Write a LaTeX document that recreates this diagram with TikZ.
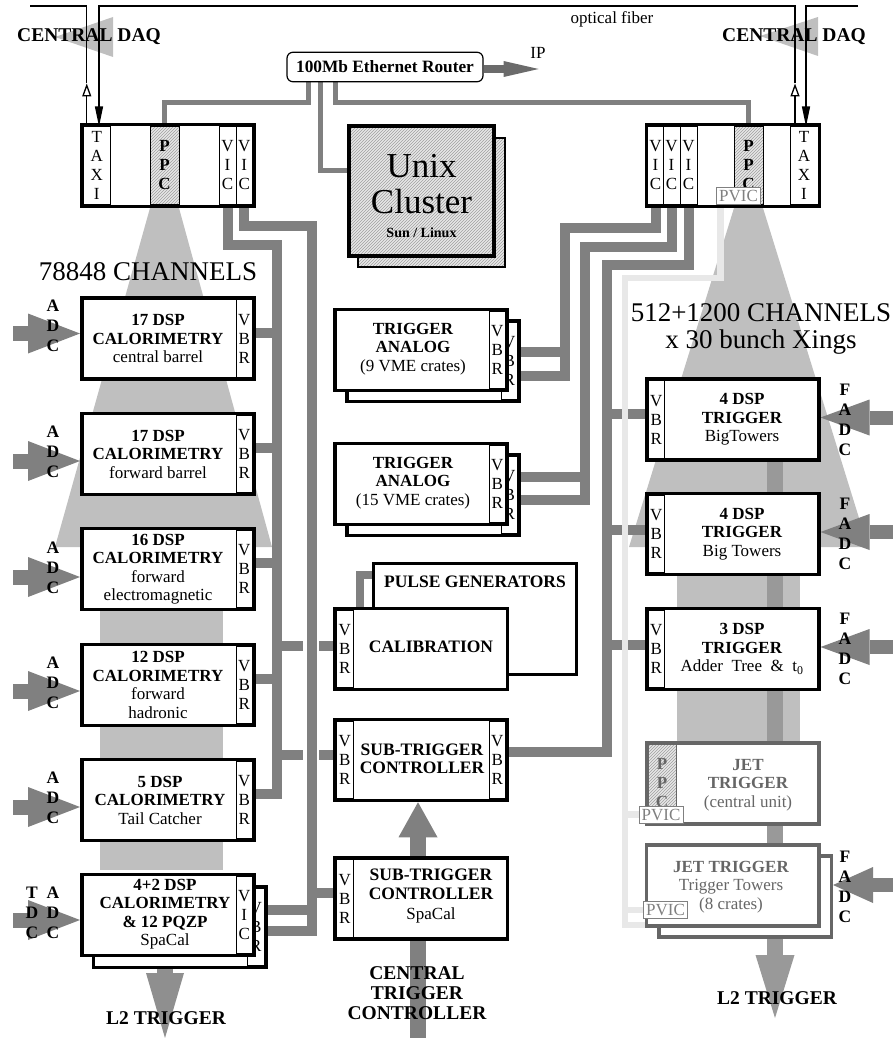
\documentclass[tikz,border=0pt]{standalone}
\usepackage{fontspec}
\setmainfont{Liberation Serif}
\usetikzlibrary{arrows.meta,patterns,calc}

\definecolor{wiregray}{gray}{0.5}
\definecolor{fungray}{gray}{0.75}
\definecolor{spinegray}{gray}{0.6}
\definecolor{l2gray}{gray}{0.56}
\definecolor{ipgray}{gray}{0.42}
\definecolor{lightwire}{gray}{0.91}
\definecolor{jetgray}{gray}{0.4}
\pgfdeclarelayer{back}
\pgfsetlayers{back,main}

\begin{document}
\begin{tikzpicture}[x=1pt,y=-1pt,font=\fontsize{17}{18.5}\selectfont,
  box/.style={draw,line width=3.5pt,fill=white,inner sep=0pt,minimum width=172.5pt,minimum height=81pt},
  hbox/.style={draw,line width=3.5pt,inner sep=0pt,hatch},
  slot/.style={draw,line width=0.6pt,inner sep=0pt,minimum width=16.5pt,minimum height=77.5pt,align=center,font=\fontsize{17}{19}\selectfont},
  strip/.style={slot,fill=white},
  hatch/.style={preaction={fill=gray!18},pattern=north east lines,pattern color=gray!75},
  hstrip/.style={slot,hatch,font=\fontsize{17}{19}\selectfont\bfseries},
  txt/.style={align=center,inner sep=0pt},
  letters/.style={align=center,inner sep=0pt,font=\fontsize{17.5}{20}\selectfont\bfseries},
  big/.style={align=center,inner sep=0pt,font=\fontsize{19.5}{20}\selectfont\bfseries},
  chan/.style={align=center,inner sep=0pt,font=\fontsize{27}{27}\selectfont},
  pvic/.style={draw=gray,line width=0.7pt,fill=white,text=gray,inner xsep=2.5pt,inner ysep=0.5pt,minimum height=17pt,font=\fontsize{17}{17}\selectfont},
  router/.style={draw,line width=1.2pt,fill=white,rounded corners=6pt,minimum width=196pt,minimum height=29.5pt,font=\fontsize{17.3}{18}\selectfont\bfseries},
  wire/.style={draw=wiregray,line width=10pt},
  netw/.style={draw=wiregray,line width=5pt},
  lwire/.style={draw=lightwire,line width=6.5pt},
  fiber/.style={line width=1.3pt},
  adc/.style={draw=wiregray,line width=15pt,-{Triangle[length=52pt,width=40pt,line width=0pt]}},
  fadc/.style={draw=wiregray,line width=14pt,-{Triangle[length=49pt,width=36pt,line width=0pt]}}]

\useasboundingbox (0,0) rectangle (893,1038);

% crates on top
\node[box,minimum height=81.5pt] (lcrate) at (168,165.5) {};
\node[strip,minimum width=26.5pt] (ltaxi) at (96.75,165.5) {T\\A\\X\\I};
\node[hstrip,minimum width=29pt] (lppc) at (164.5,165.5) {P\\P\\C};
\node[strip,minimum width=17pt] (lvic1) at (227.5,165.5) {V\\I\\C};
\node[strip] (lvic2) at (244.25,165.5) {V\\I\\C};

\node[box,minimum height=81.5pt] (rcrate) at (733,165.5) {};
\node[strip,minimum width=15.5pt] (rvic1) at (655.5,165.5) {V\\I\\C};
\node[strip,minimum width=17pt] (rvic2) at (671.5,165.5) {V\\I\\C};
\node[strip,minimum width=17pt] (rvic3) at (688.5,165.5) {V\\I\\C};
\node[hstrip,minimum width=29pt] (rppc) at (748.5,165.5) {P\\P\\C};
\node[strip,minimum width=28pt] (rtaxi) at (804,165.5) {T\\A\\X\\I};
\node[pvic] (rpvic) at (738.5,195.5) {PVIC};

\node[router] (router) at (385,67) {100Mb Ethernet Router};
\node (fibtxt) at (612,19) {optical fiber};
\node (iptxt) at (538,53) {IP};
\node[big] (ldaq) at (89,37) {CENTRAL DAQ};
\node[big] (rdaq) at (794,37) {CENTRAL DAQ};

% unix cluster
\node[hbox,line width=2.5pt,minimum width=147pt,minimum height=129pt] (unixb) at (431.5,202.5) {};
\node[hbox,line width=4pt,minimum width=145pt,minimum height=130pt] (unix) at (421.5,191) {};
\node[anchor=base,inner sep=0pt,font=\fontsize{35}{35}\selectfont] (unixa) at (421.5,177) {Unix};
\node[anchor=base,inner sep=0pt,font=\fontsize{35}{35}\selectfont] (unixc) at (421.5,213) {Cluster};
\node[anchor=base,inner sep=0pt,font=\fontsize{14}{14}\selectfont\bfseries] (unixs) at (421.5,237) {Sun / Linux};

\node[chan] (lchan) at (148,272) {78848 CHANNELS};
\node[chan] (rchan) at (761,328.5) {512+1200 CHANNELS\\x 30 bunch Xings};

% calorimetry column
\foreach \n/\y/\dl/\tx/\lines in {
  cal1/338.5/-13/158/{\textbf{17 DSP}\\\textbf{CALORIMETRY}\\central barrel},
  cal2/454/-2/158/{\textbf{17 DSP}\\\textbf{CALORIMETRY}\\forward barrel},
  cal3/569/-1/158/{\textbf{16 DSP}\\\textbf{CALORIMETRY}\\forward\\electromagnetic},
  cal4/685/-2/158/{\textbf{12 DSP}\\\textbf{CALORIMETRY}\\forward\\hadronic},
  cal5/800/-2/160/{\textbf{5 DSP}\\\textbf{CALORIMETRY}\\Tail Catcher}}{
  \node[box] (\n) at (168,\y) {};
  \node[strip] (\n-v) at (244.25,\y) {V\\B\\R};
  \node[txt] (\n-t) at (\tx,\y) {\lines};
  \node[letters] (\n-adc) at (53,\y+\dl) {A\\D\\C};
}
\node[box] (cal6b) at (179.5,927) {};
\node[strip] (cal6b-v) at (255.75,927) {V\\B\\R};
\node[box] (cal6) at (168,915) {};
\node[strip] (cal6-v) at (244.25,915) {V\\I\\C};
\node[txt] (cal6-t) at (165,914) {\textbf{4+2 DSP}\\\textbf{CALORIMETRY}\\\textbf{\& 12 PQZP}\\SpaCal};
\node[letters] (cal6-tdc) at (32,913) {T\\D\\C};
\node[letters] (cal6-adc) at (53,913) {A\\D\\C};
\node[big] (l2l-t) at (166,1018) {L2 TRIGGER};

% middle column
\node[box] (ta9b) at (433,361) {};
\node[strip] (ta9b-v) at (509.25,361) {V\\B\\R};
\node[box] (ta9) at (421,350) {};
\node[strip] (ta9-v) at (497.25,350) {V\\B\\R};
\node[txt] (ta9-t) at (413,349) {\textbf{TRIGGER}\\\textbf{ANALOG}\\(9 VME crates)};
\node[box] (ta15b) at (433,495) {};
\node[strip] (ta15b-v) at (509.25,495) {V\\B\\R};
\node[box] (ta15) at (421,484) {};
\node[strip] (ta15-v) at (497.25,484) {V\\B\\R};
\node[txt] (ta15-t) at (413,483) {\textbf{TRIGGER}\\\textbf{ANALOG}\\(15 VME crates)};

\node[box,line width=3pt,minimum width=203pt,minimum height=111pt] (pulse) at (475,619) {};
\node[txt,font=\fontsize{17.5}{18.5}\selectfont\bfseries] (pulse-t) at (475,582) {PULSE GENERATORS};
\node[box] (calib) at (421,649) {};
\node[strip] (calib-v) at (344.75,649) {V\\B\\R};
\node[txt,font=\fontsize{17.5}{18.5}\selectfont\bfseries] (calib-t) at (431,647) {CALIBRATION};

\node[box] (stc) at (421,760) {};
\node[strip] (stc-l) at (344.75,760) {V\\B\\R};
\node[strip] (stc-r) at (497.25,760) {V\\B\\R};
\node[txt,font=\fontsize{17.5}{18.5}\selectfont\bfseries] (stc-t) at (422,759) {SUB-TRIGGER\\CONTROLLER};
\node[box] (stcs) at (421,898.5) {};
\node[strip] (stcs-l) at (344.75,898.5) {V\\B\\R};
\node[txt,font=\fontsize{17.5}{19.5}\selectfont\bfseries] (stcs-t) at (431,896) {SUB-TRIGGER\\CONTROLLER\\{\normalfont\fontsize{17}{19}\selectfont SpaCal}};
\node[big] (ctc-t) at (417,993) {CENTRAL\\TRIGGER\\CONTROLLER};

% trigger column
\foreach \n/\y/\lines in {
  r1/419.5/{\textbf{4 DSP}\\\textbf{TRIGGER}\\BigTowers},
  r2/534/{\textbf{4 DSP}\\\textbf{TRIGGER}\\Big Towers},
  r3/649/{\textbf{3 DSP}\\\textbf{TRIGGER}\\Adder~~Tree~~\&~~t\textsubscript{0}}}{
  \node[box] (\n) at (732.5,\y) {};
  \node[strip] (\n-v) at (656.25,\y) {V\\B\\R};
  \node[txt] (\n-t) at (742,\y) {\lines};
  \node[letters] (\n-f) at (845,\y) {F\\A\\D\\C};
}
\node[box,draw=jetgray] (jetc) at (732.5,783.5) {};
\node[hstrip,draw=jetgray,text=jetgray,minimum width=28pt] (jetc-p) at (662,783.5) {P\\P\\C};
\node[pvic] (jetc-pv) at (661,814.5) {PVIC};
\node[txt,text=jetgray] (jetc-t) at (748,785) {\textbf{JET}\\\textbf{TRIGGER}\\(central unit)};
\node[box,draw=jetgray] (jettb) at (745,896.5) {};
\node[box,draw=jetgray] (jett) at (732.5,885.5) {};
\node[pvic] (jett-pv) at (665.5,910) {PVIC};
\node[txt,text=jetgray] (jett-t) at (731,887) {\textbf{JET TRIGGER}\\Trigger Towers\\(8 crates)};
\node[letters] (jett-f) at (845,887) {F\\A\\D\\C};
\node[big] (l2r-t) at (777,998) {L2 TRIGGER};

% optical fiber
\coordinate (fibL) at (30,6);
\coordinate (fibR) at (858,6);
\draw[fiber] (fibL) -| ($(ltaxi.north)+(-10,-43)$);
\draw[fiber,-{Triangle[open,length=13pt,width=9pt]}] ($(ltaxi.north)+(-10,0)$) -- ++(0,-43);
\draw[fiber,-{Triangle[length=20pt,width=8pt]}] ($(rtaxi.north)+(-9,-43)$) |- ($(ltaxi.north |- fibL)+(2.25,0)$) -- ($(ltaxi.north)+(2.25,0)$);
\draw[fiber,-{Triangle[open,length=13pt,width=9pt]}] ($(rtaxi.north)+(-9,0)$) -- ++(0,-43);
\draw[fiber,-{Triangle[length=20pt,width=8pt]}] (fibR) -| ($(rtaxi.north)+(2,0)$);

\coordinate (busA) at (277,245);
\coordinate (busB) at (312,226);
\coordinate (bus1) at (565,228);
\coordinate (bus2) at (585,247);
\coordinate (bus3) at (607,265);
\coordinate (lbus) at (625,278);
\coordinate (l2l) at (165,1038);
\coordinate (l2r) at (775,1018);
\coordinate (ctc) at (418,1038);

\begin{pgfonlayer}{back}
% channel funnels
\fill[fungray] (150,208) -- (179,208) -- (272,547) -- (55,547) -- cycle;
\fill[fungray] (100,547) rectangle (223,870);
\fill[fungray] (734,208) -- (763,208) -- (868,547) -- (629,547) -- cycle;
\fill[fungray] (677,547) rectangle (800,742);
\fill[fungray] (113,17) -- (113,57) -- (55,37) -- cycle;
\fill[fungray] (818,17) -- (818,56) -- (760,36) -- cycle;

% ethernet
\draw[netw] ($(router.south west)+(22.5,0)$) -- ++(0,20.5) -| (lppc.north);
\draw[netw] ($(router.south west)+(34.5,0)$) |- ($(unix.west)+(0,-20.5)$);
\draw[netw] ($(router.south west)+(49,0)$) -- ++(0,20.5) -| (rppc.north);
\draw[draw=ipgray,line width=8pt,-{Triangle[length=35pt,width=16pt,line width=0pt]}] ($(router.east)+(0,2)$) -- ++(55,0);

% VME links, left
\draw[wire] (lvic1.south) |- (busA) |- ($(cal5.east)+(0,-6)$);
\foreach \n in {cal1,cal2,cal3,cal4}
  \draw[wire] ($(\n.east)+(0,-6)$) -- ($(busA |- \n.east)+(0,-6)$);
\draw[wire] (lvic2.south) |- (busB) |- ($(cal6b.east)+(0,4)$);
\draw[wire] ($(cal6b.east)+(0,-17)$) -- ($(busB |- cal6b.east)+(0,-17)$);
\draw[wire] ($(busB |- stcs.west)+(0,-5.5)$) -- ($(stcs.west)+(0,-5.5)$);
\draw[wire] ($(busA |- calib.west)+(0,-3)$) -- ++(26,0);
\draw[wire] ($(calib.west)+(-14,-3)$) -- ($(calib.west)+(0,-3)$);
\draw[wire] ($(busA |- stc.west)+(0,-5)$) -- ++(26,0);
\draw[wire] ($(stc.west)+(-14,-5)$) -- ($(stc.west)+(0,-5)$);
\draw[wire,line width=8pt] ($(calib.north west)+(27,0)$) |- ($(pulse.north west)+(0,13)$);

% VME links, right
\draw[wire] (rvic1.south) |- (bus1) |- ($(ta9b.east)+(0,15)$);
\draw[wire] ($(ta9.east)+(0,2)$) -- ($(bus1 |- ta9.east)+(0,2)$);
\draw[wire] (rvic2.south) |- (bus2) |- ($(ta15b.east)+(0,5)$);
\draw[wire] ($(ta15.east)+(0,-7)$) -- ($(bus2 |- ta15.east)+(0,-7)$);
\draw[wire] (rvic3.south) |- (bus3) |- ($(stc.east)+(0,-8)$);
\foreach \n/\d in {r1/-6,r2/-4,r3/-4}
  \draw[wire] ($(bus3 |- \n.west)+(0,\d)$) -- ($(\n.west)+(0,\d)$);

% ADC inputs
\foreach \n/\da in {cal1/-5,cal2/7,cal3/8,cal4/6,cal5/7,cal6/5}
  \draw[adc] ($(\n.west)+(-67,\da)$) -- ($(\n.west)+(0,\da)$);
\foreach \n in {r1,r2,r3}
  \draw[fadc] ($(\n.east)+(74,-2)$) -- ($(\n.east)+(0,-2)$);
\draw[draw=wiregray,line width=14pt,-{Triangle[length=40pt,width=36pt,line width=0pt]}] ($(jettb.east)+(62,-11.5)$) -- ($(jettb.east)+(0,-11.5)$);

% L2 and central trigger
\draw[draw=l2gray,line width=16pt,-{Triangle[length=65pt,width=38pt,line width=0pt]}] (cal6.south -| l2l) -- (l2l);
\draw[draw=spinegray,line width=16pt,-{Triangle[length=63pt,width=39pt,line width=0pt]}] (r1.south -| l2r) -- (l2r);
\draw[draw=wiregray,line width=16pt] (ctc) -- (stcs.south -| ctc);
\draw[draw=wiregray,line width=16pt,-{Triangle[length=35pt,width=39pt,line width=0pt]}] (stcs.north -| ctc) -- (stc.south -| ctc);

% PVIC link
\draw[lwire] ($(rpvic.south west)+(4,0)$) |- (lbus) |- ($(jettb.west)+(0,28.5)$);
\draw[lwire] (lbus |- jetc-pv.west) -- (jetc-pv.west);
\draw[lwire] (lbus |- jett-pv.west) -- (jett-pv.west);
\end{pgfonlayer}
\end{tikzpicture}
\end{document}
